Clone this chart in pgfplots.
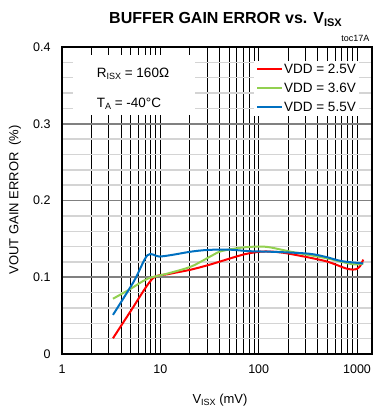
\documentclass[border=0pt]{standalone}
\usepackage{fontspec}
\setmainfont{Liberation Sans}
\usepackage{pgfplots}
\pgfplotsset{compat=1.18}
\definecolor{cred}{HTML}{FF0000}
\definecolor{cgreen}{HTML}{92D050}
\definecolor{cblue}{HTML}{0070C0}
\newcommand\sub[2][9bp]{\raisebox{-0.35ex}{\fontsize{#1}{#1}\selectfont #2}}
\begin{document}
\begin{tikzpicture}[x=1bp,y=1bp]
\useasboundingbox (-62,-59) rectangle (313,354);
\begin{axis}[
  at={(0,0)}, anchor=south west,
  scale only axis, width=310bp, height=307bp,
  xmode=log, log basis x=10,
  xmin=1, xmax=1420, ymin=0, ymax=0.4,
  xtick={1,10,100,1000}, xticklabels={1,10,100,1000},
  minor xtick={2,3,4,5,6,7,8,9,20,30,40,50,60,70,80,90,200,300,400,500,600,700,800,900},
  ytick={0,0.1,0.2,0.3,0.4}, yticklabels={0,0.1,0.2,0.3,0.4},
  minor ytick={0.02,0.04,0.06,0.08,0.12,0.14,0.16,0.18,0.22,0.24,0.26,0.28,0.32,0.34,0.36,0.38},
  major tick length=0pt, minor tick length=0pt,
  /pgf/number format/assume math mode=true,
  tick label style={font=\fontsize{12.5bp}{14bp}\selectfont},
  xticklabel style={yshift=-7bp},
  yticklabel style={xshift=-8bp},
  xmajorgrids, xminorgrids, ymajorgrids, yminorgrids,
  major x grid style={black, line width=0.9bp},
  minor x grid style={black, line width=0.9bp},
  major y grid style={black!50, line width=1.6bp},
  minor y grid style={black!17, line width=1.4bp},
  axis line style={black, line width=2.5bp},
  legend style={at={(rel axis cs:0.958,0.955)}, anchor=north east, draw=none, fill=white,
    font=\fontsize{13.5bp}{15bp}\selectfont, row sep=6bp, inner sep=2bp,
    nodes={inner sep=1bp}},
  legend cell align=left,
  legend image code/.code={\draw[#1, mark=none] (0bp,0bp) -- (25bp,0bp);},
  every axis plot/.append style={line width=2bp, smooth, tension=0.5},
]
\node[fill=white, inner sep=0, minimum width=122bp, minimum height=60bp, anchor=north west] at (rel axis cs:0.0355,0.974) {};
\node[font=\fontsize{13.5bp}{15bp}\selectfont] at (rel axis cs:0.229,0.913) {R\sub{ISX} = 160Ω};
\node[font=\fontsize{13.5bp}{15bp}\selectfont] at (rel axis cs:0.216,0.815) {T\sub{A} = -40°C};
\addplot[cred] coordinates {(3.3,0.0205) (5,0.056) (8.3,0.098) (12,0.104) (20.6,0.110) (33,0.117) (41.7,0.121) (72,0.130) (107,0.1334) (150,0.133) (218,0.130) (479,0.121) (750,0.112) (900,0.110) (1000,0.111) (1080,0.115) (1157,0.123)};
\addlegendentry{VDD = 2.5V}
\addplot[cgreen] coordinates {(3.3,0.072) (5,0.085) (7.4,0.098) (12,0.105) (20.6,0.114) (33,0.1278) (41.7,0.134) (67,0.1386) (99,0.140) (130,0.139) (218,0.133) (479,0.125) (899,0.117) (1157,0.1177)};
\addlegendentry{VDD = 3.6V}
\addplot[cblue] coordinates {(3.3,0.051) (5.4,0.095) (7.4,0.1287) (9.7,0.127) (13,0.129) (20.6,0.1334) (30.5,0.1356) (50,0.136) (80,0.134) (150,0.133) (323,0.1307) (480,0.1265) (700,0.121) (1157,0.118)};
\addlegendentry{VDD = 5.5V}
\end{axis}
\node[font=\bfseries\fontsize{16bp}{18bp}\selectfont] at (163.5,335) {BUFFER GAIN ERROR vs. V\sub[11bp]{ISX}};
\node[anchor=east, font=\fontsize{9bp}{10bp}\selectfont] at (311,316) {toc17A};
\node[font=\fontsize{13bp}{15bp}\selectfont] at (158,-46) {V\sub{ISX} (mV)};
\node[rotate=90, font=\fontsize{13bp}{15bp}\selectfont] at (-47,154) {VOUT GAIN ERROR\enspace(\%)};
\end{tikzpicture}
\end{document}
